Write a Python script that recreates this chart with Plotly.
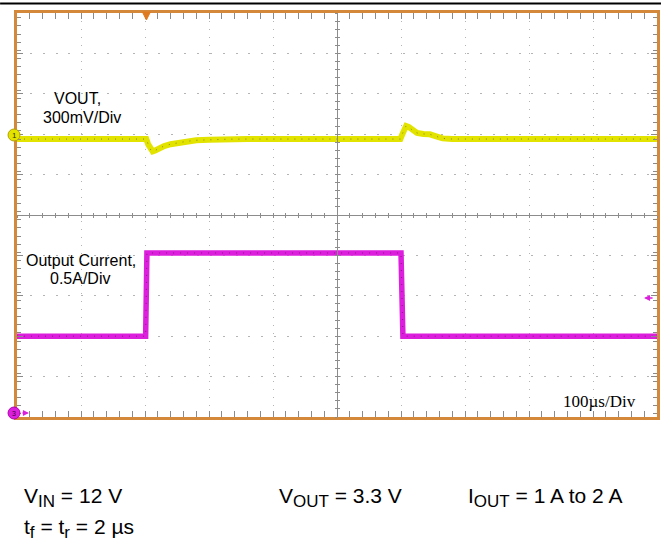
import plotly.graph_objects as go

# ---------------- data (read from the scope capture) ----------------
time_per_div_us = 100          # 100 us/Div
vout_volts_per_div = 0.3       # 300 mV/Div
iout_amps_per_div = 0.5        # 0.5 A/Div

# VOUT channel (V) versus time (us)
vout_t_us = [0, 100, 202, 205, 209, 212, 216, 222, 230, 240, 252, 265, 280, 300, 330, 360,
             500, 599, 602, 605, 608, 612, 618, 625, 635, 645, 655, 665, 680, 800, 1000]
vout_v = [3.300, 3.300, 3.300, 3.260, 3.220, 3.208, 3.215, 3.232, 3.248, 3.262, 3.274, 3.283,
          3.291, 3.295, 3.299, 3.300,
          3.300, 3.300, 3.335, 3.375, 3.397, 3.390, 3.365, 3.345, 3.338, 3.335, 3.320, 3.305,
          3.300, 3.300, 3.300]

# Output current channel (A) versus time (us)
iout_t_us = [0, 201, 203, 600, 603, 1000]
iout_a = [1.0, 1.0, 2.03, 2.03, 1.0, 1.0]

# channel offsets on screen (divisions from centre)
vout_ref_v = 3.3
vout_ref_div = 1.88
iout_zero_div = -5.0

# ---------------- geometry helpers ----------------
W, H = 664, 543
ML, MR, MT, MB = 17, 4, 13, 126
PW, PH = W - ML - MR, H - MT - MB


def px(x):
    return (x - ML) / PW


def py(y):
    return (H - MB - y) / PH


n_div = 10
t_max = n_div * time_per_div_us
v_lo = vout_ref_v - (5 + vout_ref_div) * vout_volts_per_div
v_hi = vout_ref_v + (5 - vout_ref_div) * vout_volts_per_div
i_lo = (-5 - iout_zero_div) * iout_amps_per_div
i_hi = (5 - iout_zero_div) * iout_amps_per_div

ORANGE = "#d4893a"
YELLOW = "#e3e300"
MAGENTA = "#dc1fdc"
GRID = "#b4b4b4"
TICK = "#8a8a8a"

fig = go.Figure()

fig.add_trace(go.Scatter(x=iout_t_us, y=iout_a, mode="lines", yaxis="y2",
                         line=dict(color=MAGENTA, width=5.5), hoverinfo="skip"))
fig.add_trace(go.Scatter(x=iout_t_us, y=iout_a, mode="lines", yaxis="y2",
                         line=dict(color="#5a1050", width=1, dash="1px,6px"), opacity=0.6,
                         hoverinfo="skip"))
fig.add_trace(go.Scatter(x=vout_t_us, y=vout_v, mode="lines",
                         line=dict(color=YELLOW, width=6), hoverinfo="skip"))
fig.add_trace(go.Scatter(x=vout_t_us, y=vout_v, mode="lines",
                         line=dict(color="#4a4a00", width=1, dash="1px,6px"), opacity=0.6,
                         hoverinfo="skip"))

axis_common = dict(showticklabels=False, zeroline=False, fixedrange=True)

fig.update_layout(
    width=W, height=H,
    margin=dict(l=ML, r=MR, t=MT, b=MB),
    paper_bgcolor="white", plot_bgcolor="white",
    showlegend=False,
    xaxis=dict(range=[0, t_max], dtick=time_per_div_us, tick0=0,
               showgrid=True, gridcolor=GRID, gridwidth=1, griddash="1px,7px",
               showline=True, linecolor=ORANGE, linewidth=3, mirror="allticks",
               ticks="inside", ticklen=6, tickcolor=TICK, tickwidth=1,
               minor=dict(dtick=time_per_div_us / 5, ticks="inside", ticklen=4,
                          tickcolor=TICK, showgrid=False),
               **axis_common),
    yaxis=dict(range=[v_lo, v_hi], dtick=vout_volts_per_div,
               tick0=v_lo,
               showgrid=True, gridcolor=GRID, gridwidth=1, griddash="2px,10.86px",
               showline=True, linecolor=ORANGE, linewidth=3, mirror="allticks",
               ticks="inside", ticklen=6, tickcolor=TICK, tickwidth=1,
               minor=dict(dtick=vout_volts_per_div / 5, ticks="inside", ticklen=4,
                          tickcolor=TICK, showgrid=False),
               **axis_common),
    yaxis2=dict(range=[i_lo, i_hi], overlaying="y", showgrid=False, showline=False,
                ticks="", **axis_common),
    # centre cross-hair axes with small tick marks
    xaxis2=dict(range=[0, t_max], overlaying="x", anchor="free", position=0.5,
                showgrid=False, showline=True, linecolor="#8c8c8c", linewidth=1,
                dtick=time_per_div_us / 5, ticks="outside", ticklen=2, tickcolor="#8c8c8c",
                **axis_common),
    xaxis3=dict(range=[0, t_max], overlaying="x", anchor="free", position=0.5,
                showgrid=False, showline=False,
                dtick=time_per_div_us / 5, ticks="inside", ticklen=2, tickcolor="#8c8c8c",
                **axis_common),
    yaxis3=dict(range=[-5, 5], overlaying="y", anchor="free", position=0.5,
                showgrid=False, showline=True, linecolor="#8c8c8c", linewidth=1,
                dtick=0.2, ticks="outside", ticklen=2, tickcolor="#8c8c8c",
                **axis_common),
    yaxis4=dict(range=[-5, 5], overlaying="y", anchor="free", position=0.5,
                showgrid=False, showline=False,
                dtick=0.2, ticks="inside", ticklen=2, tickcolor="#8c8c8c",
                **axis_common),
)

# invisible placeholder traces so the centre axes get drawn
fig.add_trace(go.Scatter(x=[None], y=[None], xaxis="x2", yaxis="y3", hoverinfo="skip",
                         showlegend=False))
fig.add_trace(go.Scatter(x=[None], y=[None], xaxis="x3", yaxis="y4", hoverinfo="skip",
                         showlegend=False))

shapes = []
# black rule at very top
shapes.append(dict(type="line", xref="paper", yref="paper", x0=px(0), x1=px(W), y0=py(3.5), y1=py(3.5),
                   line=dict(color="black", width=2)))
# channel 1 marker
shapes.append(dict(type="circle", xref="paper", yref="paper", x0=px(8), x1=px(20), y0=py(141), y1=py(129),
                   fillcolor=YELLOW, line=dict(color="#b5a000", width=1)))
# channel 3 ground marker
shapes.append(dict(type="circle", xref="paper", yref="paper", x0=px(8), x1=px(20), y0=py(419), y1=py(407),
                   fillcolor=MAGENTA, line=dict(color="#b000b0", width=1)))
# trigger position marker
shapes.append(dict(type="path", xref="paper", yref="paper",
                   path=f"M {px(143)} {py(12)} L {px(151)} {py(12)} L {px(147)} {py(20)} Z",
                   fillcolor="#e07a20", line=dict(color="#e07a20", width=1)))
fig.update_layout(shapes=shapes)

ann = []
lab_font = dict(family="Liberation Sans, Arial, sans-serif", size=16, color="black")
ann.append(dict(text="VOUT,", x=px(78), y=py(99), xref="paper", yref="paper", showarrow=False,
                font=lab_font, xanchor="center", yanchor="middle"))
ann.append(dict(text="300mV/Div", x=px(82), y=py(117), xref="paper", yref="paper", showarrow=False,
                font=lab_font, xanchor="center", yanchor="middle"))
ann.append(dict(text="Output Current,", x=px(81), y=py(260), xref="paper", yref="paper", showarrow=False,
                font=lab_font, xanchor="center", yanchor="middle"))
ann.append(dict(text="0.5A/Div", x=px(80), y=py(279), xref="paper", yref="paper", showarrow=False,
                font=lab_font, xanchor="center", yanchor="middle"))
ann.append(dict(text="100\u00b5s/Div", x=px(602), y=py(401), xref="paper", yref="paper", showarrow=False,
                font=dict(family="Liberation Serif, Times New Roman, serif", size=17, color="black"),
                xanchor="center", yanchor="middle"))
# marker labels
ann.append(dict(text="1", x=px(14), y=py(135), xref="paper", yref="paper", showarrow=False,
                font=dict(family="Liberation Sans, Arial", size=8, color="#333300"),
                xanchor="center", yanchor="middle"))
ann.append(dict(text="3", x=px(14), y=py(413), xref="paper", yref="paper", showarrow=False,
                font=dict(family="Liberation Sans, Arial", size=7, color="#400040"),
                xanchor="center", yanchor="middle"))
# small arrows
ann.append(dict(text="", x=px(29), y=py(413), ax=-8, ay=0, xref="paper", yref="paper",
                showarrow=True, arrowhead=2, arrowsize=0.8, arrowwidth=1.5, arrowcolor=MAGENTA))
ann.append(dict(text="", x=px(647), y=py(298), ax=10, ay=0, xref="paper", yref="paper",
                showarrow=True, arrowhead=2, arrowsize=0.8, arrowwidth=1.5, arrowcolor=MAGENTA))

bot_font = dict(family="Liberation Sans, Arial, sans-serif", size=21, color="black")
SUB = '<sub><span style="font-size:17px">{}</span></sub>'
ann.append(dict(text="V" + SUB.format("IN") + " = 12 V", x=px(22), y=py(497), xref="paper", yref="paper",
                showarrow=False, font=bot_font, xanchor="left", yanchor="middle"))
ann.append(dict(text="V" + SUB.format("OUT") + " = 3.3 V", x=px(278), y=py(497), xref="paper",
                yref="paper", showarrow=False, font=bot_font, xanchor="left", yanchor="middle"))
ann.append(dict(text="I" + SUB.format("OUT") + " = 1 A to 2 A", x=px(468), y=py(497), xref="paper",
                yref="paper", showarrow=False, font=bot_font, xanchor="left", yanchor="middle"))
ann.append(dict(text="t" + SUB.format("f") + " = t" + SUB.format("r") + " = 2 \u00b5s", x=px(22), y=py(528),
                xref="paper", yref="paper", showarrow=False, font=bot_font, xanchor="left",
                yanchor="middle"))
fig.update_layout(annotations=ann)

fig.write_html("out.html", config={"displayModeBar": False},
               post_script="document.body.style.margin='0';")
